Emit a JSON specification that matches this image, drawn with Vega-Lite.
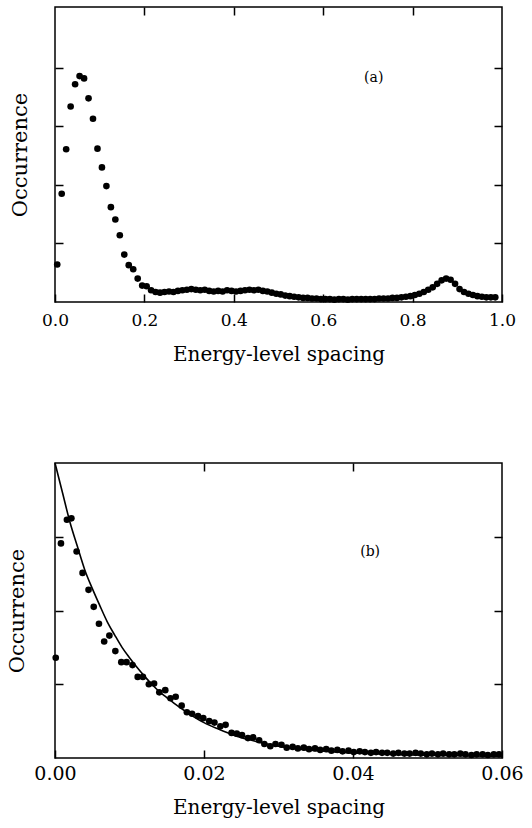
{
  "$schema": "https://vega.github.io/schema/vega-lite/v6.json",
  "padding": {"left": 5, "top": 5, "right": 5, "bottom": 5},
  "background": "white",
  "spacing": 94,
  "columns": 1,
  "align": "none",
  "config": {
    "view": {"stroke": "black", "strokeWidth": 1.5},
    "font": "DejaVu Serif",
    "axis": {
      "grid": false, "domain": false, "tickColor": "black", "tickWidth": 1.5, "tickSize": -8,
      "labelFlush": false, "labelOverlap": false,
      "labelFont": "DejaVu Serif", "labelFontSize": 17, "labelColor": "black",
      "titleFont": "DejaVu Serif", "titleFontSize": 20, "titleFontWeight": "normal", "titleColor": "black"
    }
  },
  "datasets": {
    "a": [
      {"x":0.005,"y":0.64},{"x":0.015,"y":1.85},{"x":0.025,"y":2.61},{"x":0.035,"y":3.34},{"x":0.045,"y":3.72},
      {"x":0.055,"y":3.86},{"x":0.065,"y":3.82},{"x":0.075,"y":3.48},{"x":0.085,"y":3.13},{"x":0.095,"y":2.62},
      {"x":0.105,"y":2.30},{"x":0.115,"y":1.98},{"x":0.125,"y":1.62},{"x":0.135,"y":1.41},{"x":0.145,"y":1.14},
      {"x":0.155,"y":0.81},{"x":0.165,"y":0.63},{"x":0.175,"y":0.56},{"x":0.185,"y":0.40},{"x":0.195,"y":0.28},
      {"x":0.205,"y":0.27},{"x":0.215,"y":0.20},{"x":0.225,"y":0.17},{"x":0.235,"y":0.16},{"x":0.245,"y":0.17},
      {"x":0.255,"y":0.18},{"x":0.265,"y":0.17},{"x":0.275,"y":0.19},{"x":0.285,"y":0.20},{"x":0.295,"y":0.21},
      {"x":0.305,"y":0.22},{"x":0.315,"y":0.21},{"x":0.325,"y":0.20},{"x":0.335,"y":0.21},{"x":0.345,"y":0.19},
      {"x":0.355,"y":0.18},{"x":0.365,"y":0.19},{"x":0.375,"y":0.18},{"x":0.385,"y":0.20},{"x":0.395,"y":0.19},
      {"x":0.405,"y":0.18},{"x":0.415,"y":0.19},{"x":0.425,"y":0.20},{"x":0.435,"y":0.21},{"x":0.445,"y":0.20},
      {"x":0.455,"y":0.21},{"x":0.465,"y":0.19},{"x":0.475,"y":0.18},{"x":0.485,"y":0.16},{"x":0.495,"y":0.14},
      {"x":0.505,"y":0.13},{"x":0.515,"y":0.11},{"x":0.525,"y":0.10},{"x":0.535,"y":0.09},{"x":0.545,"y":0.08},
      {"x":0.555,"y":0.07},{"x":0.565,"y":0.07},{"x":0.575,"y":0.06},{"x":0.585,"y":0.06},{"x":0.595,"y":0.05},
      {"x":0.605,"y":0.05},{"x":0.615,"y":0.05},{"x":0.625,"y":0.04},{"x":0.635,"y":0.05},{"x":0.645,"y":0.05},
      {"x":0.655,"y":0.04},{"x":0.665,"y":0.05},{"x":0.675,"y":0.05},{"x":0.685,"y":0.05},{"x":0.695,"y":0.05},
      {"x":0.705,"y":0.05},{"x":0.715,"y":0.05},{"x":0.725,"y":0.06},{"x":0.735,"y":0.06},{"x":0.745,"y":0.06},
      {"x":0.755,"y":0.07},{"x":0.765,"y":0.07},{"x":0.775,"y":0.08},{"x":0.785,"y":0.09},{"x":0.795,"y":0.10},
      {"x":0.805,"y":0.12},{"x":0.815,"y":0.14},{"x":0.825,"y":0.17},{"x":0.835,"y":0.21},{"x":0.845,"y":0.25},
      {"x":0.855,"y":0.31},{"x":0.865,"y":0.37},{"x":0.875,"y":0.40},{"x":0.885,"y":0.38},{"x":0.895,"y":0.31},
      {"x":0.905,"y":0.22},{"x":0.915,"y":0.17},{"x":0.925,"y":0.14},{"x":0.935,"y":0.12},{"x":0.945,"y":0.10},
      {"x":0.955,"y":0.09},{"x":0.965,"y":0.08},{"x":0.975,"y":0.08},{"x":0.985,"y":0.08}
    ],
    "b": [
      {"x":0.0001,"y":1.36},{"x":0.0008,"y":2.91},{"x":0.0016,"y":3.23},{"x":0.0022,"y":3.25},{"x":0.0029,"y":2.80},
      {"x":0.0037,"y":2.51},{"x":0.0045,"y":2.28},{"x":0.0052,"y":2.05},{"x":0.0059,"y":1.82},{"x":0.0066,"y":1.58},
      {"x":0.0073,"y":1.66},{"x":0.0081,"y":1.45},{"x":0.0089,"y":1.30},{"x":0.0096,"y":1.30},{"x":0.0104,"y":1.26},
      {"x":0.0111,"y":1.10},{"x":0.0118,"y":1.10},{"x":0.0126,"y":1.00},{"x":0.0133,"y":1.01},{"x":0.0140,"y":0.89},
      {"x":0.0148,"y":0.92},{"x":0.0155,"y":0.81},{"x":0.0162,"y":0.83},{"x":0.0170,"y":0.71},{"x":0.0177,"y":0.62},
      {"x":0.0184,"y":0.60},{"x":0.0192,"y":0.57},{"x":0.0199,"y":0.54},{"x":0.0207,"y":0.50},{"x":0.0214,"y":0.48},
      {"x":0.0222,"y":0.43},{"x":0.0229,"y":0.45},{"x":0.0237,"y":0.34},{"x":0.0244,"y":0.33},{"x":0.0251,"y":0.31},
      {"x":0.0259,"y":0.27},{"x":0.0266,"y":0.28},{"x":0.0274,"y":0.24},{"x":0.0281,"y":0.19},{"x":0.0289,"y":0.16},
      {"x":0.0296,"y":0.19},{"x":0.0304,"y":0.18},{"x":0.0311,"y":0.14},{"x":0.0319,"y":0.15},{"x":0.0326,"y":0.13},
      {"x":0.0334,"y":0.14},{"x":0.0341,"y":0.12},{"x":0.0349,"y":0.13},{"x":0.0356,"y":0.11},{"x":0.0364,"y":0.12},
      {"x":0.0371,"y":0.10},{"x":0.0379,"y":0.11},{"x":0.0386,"y":0.09},{"x":0.0394,"y":0.10},{"x":0.0401,"y":0.08},
      {"x":0.0409,"y":0.09},{"x":0.0416,"y":0.08},{"x":0.0424,"y":0.07},{"x":0.0431,"y":0.08},{"x":0.0439,"y":0.07},
      {"x":0.0446,"y":0.07},{"x":0.0454,"y":0.06},{"x":0.0461,"y":0.07},{"x":0.0469,"y":0.06},{"x":0.0476,"y":0.06},
      {"x":0.0484,"y":0.07},{"x":0.0491,"y":0.06},{"x":0.0499,"y":0.05},{"x":0.0506,"y":0.06},{"x":0.0514,"y":0.05},
      {"x":0.0521,"y":0.06},{"x":0.0529,"y":0.05},{"x":0.0536,"y":0.05},{"x":0.0544,"y":0.06},{"x":0.0551,"y":0.05},
      {"x":0.0559,"y":0.04},{"x":0.0566,"y":0.05},{"x":0.0574,"y":0.05},{"x":0.0581,"y":0.04},{"x":0.0589,"y":0.05},
      {"x":0.0596,"y":0.05}
    ],
    "fit": [
      {"x":0.0,"y":4.0},{"x":0.001,"y":3.6},{"x":0.002,"y":3.2},{"x":0.003,"y":2.87},{"x":0.004,"y":2.55},
      {"x":0.005,"y":2.3},{"x":0.006,"y":2.07},{"x":0.007,"y":1.85},{"x":0.008,"y":1.67},{"x":0.009,"y":1.5},
      {"x":0.010,"y":1.36},{"x":0.011,"y":1.23},{"x":0.012,"y":1.11},{"x":0.013,"y":1.0},{"x":0.014,"y":0.9},
      {"x":0.015,"y":0.82},{"x":0.016,"y":0.74},{"x":0.018,"y":0.6},{"x":0.020,"y":0.48},{"x":0.022,"y":0.39},
      {"x":0.024,"y":0.31},{"x":0.026,"y":0.25},{"x":0.028,"y":0.2},{"x":0.030,"y":0.16},{"x":0.034,"y":0.11},
      {"x":0.038,"y":0.08},{"x":0.042,"y":0.06},{"x":0.048,"y":0.04},{"x":0.054,"y":0.03},{"x":0.060,"y":0.02}
    ]
  },
  "concat": [
    {
      "width": 447, "height": 295,
      "layer": [
        {
          "data": {"name": "a"},
          "mark": {"type": "circle", "size": 44, "color": "black", "opacity": 1},
          "encoding": {
            "x": {"field": "x", "type": "quantitative", "scale": {"domain": [0, 1]},
                  "axis": {"orient": "bottom", "values": [0, 0.2, 0.4, 0.6, 0.8, 1.0], "format": ".1f", "title": "Energy-level spacing", "labelPadding": 18, "titlePadding": 16}},
            "y": {"field": "y", "type": "quantitative", "scale": {"domain": [0, 5.04]},
                  "axis": {"orient": "left", "values": [1, 2, 3, 4], "labels": false, "title": "Occurrence", "titleFontSize": 21, "titlePadding": 24}}
          }
        },
        {
          "data": {"values": [{"x": 0.713, "y": 3.83, "t": "(a)"}]},
          "mark": {"type": "text", "fontSize": 14, "font": "DejaVu Serif", "color": "black"},
          "encoding": {
            "x": {"field": "x", "type": "quantitative", "scale": {"domain": [0, 1]},
                  "axis": {"orient": "top", "values": [0.2, 0.4, 0.6, 0.8], "labels": false, "title": null}},
            "y": {"field": "y", "type": "quantitative", "scale": {"domain": [0, 5.04]},
                  "axis": {"orient": "right", "values": [1, 2, 3, 4], "labels": false, "title": null}},
            "text": {"field": "t"}
          }
        }
      ],
      "resolve": {"axis": {"x": "independent", "y": "independent"}}
    },
    {
      "width": 447, "height": 295,
      "layer": [
        {
          "data": {"name": "b"},
          "mark": {"type": "circle", "size": 44, "color": "black", "opacity": 1},
          "encoding": {
            "x": {"field": "x", "type": "quantitative", "scale": {"domain": [0, 0.06]},
                  "axis": {"orient": "bottom", "values": [0, 0.02, 0.04, 0.06], "format": ".2f", "title": "Energy-level spacing", "labelFontSize": 19, "labelPadding": 14, "titlePadding": 14}},
            "y": {"field": "y", "type": "quantitative", "scale": {"domain": [0, 4]},
                  "axis": {"orient": "left", "values": [1, 2, 3], "labels": false, "title": "Occurrence", "titleFontSize": 21, "titlePadding": 27}}
          }
        },
        {
          "data": {"name": "fit"},
          "mark": {"type": "line", "color": "black", "strokeWidth": 1.6, "interpolate": "monotone"},
          "encoding": {
            "x": {"field": "x", "type": "quantitative", "scale": {"domain": [0, 0.06]},
                  "axis": {"orient": "top", "values": [0.02, 0.04], "labels": false, "title": null}},
            "y": {"field": "y", "type": "quantitative", "scale": {"domain": [0, 4]},
                  "axis": {"orient": "right", "values": [1, 2, 3], "labels": false, "title": null}}
          }
        },
        {
          "data": {"values": [{"x": 0.0423, "y": 2.79, "t": "(b)"}]},
          "mark": {"type": "text", "fontSize": 14, "font": "DejaVu Serif", "color": "black"},
          "encoding": {
            "x": {"field": "x", "type": "quantitative", "scale": {"domain": [0, 0.06]}, "axis": null},
            "y": {"field": "y", "type": "quantitative", "scale": {"domain": [0, 4]}, "axis": null},
            "text": {"field": "t"}
          }
        }
      ],
      "resolve": {"axis": {"x": "independent", "y": "independent"}}
    }
  ]
}
